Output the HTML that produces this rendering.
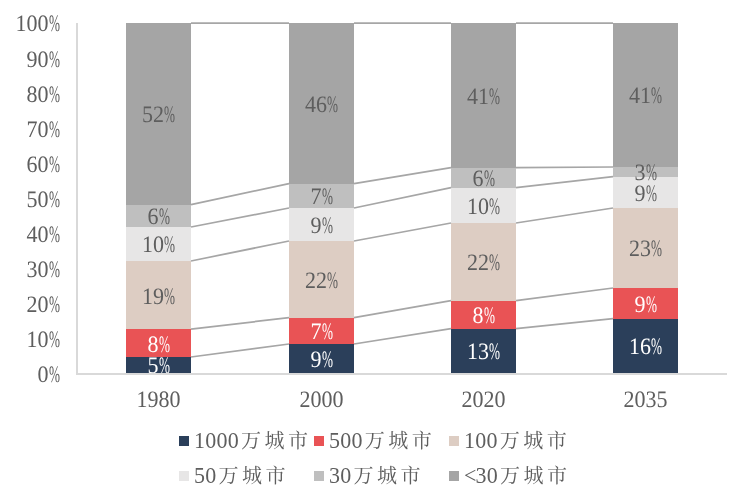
<!DOCTYPE html>
<html lang="zh-CN">
<head>
<meta charset="utf-8">
<title>城市规模人口占比</title>
<style>
html,body{margin:0;padding:0;background:#fff;}
body{width:750px;height:503px;position:relative;overflow:hidden;
 font-family:"Liberation Serif","Noto Serif CJK SC",serif;font-size:22px;line-height:22px;color:#5e5e5e;}
.seg{position:absolute;}
.t{position:absolute;white-space:nowrap;height:22px;transform:scaleY(1.07);transform-origin:50% 50%;text-rendering:geometricPrecision;}
.c{text-align:center;}
.r{text-align:right;}
.w{color:#fff;}
.p{display:inline-block;width:11px;transform:scaleX(0.6);transform-origin:0 50%;}
.ax{position:absolute;background:#d9d9d9;}
.lg{position:absolute;white-space:nowrap;height:22px;letter-spacing:0.25px;}
.d{display:inline-block;transform:scaleY(1.06);transform-origin:0 50%;}
.k{font-size:20px;font-weight:400;letter-spacing:3.5px;margin-left:2px;}
.mk{position:absolute;width:10px;height:10px;}
svg{position:absolute;left:0;top:0;}
</style>
</head>
<body>

<div class="seg" style="left:126px;top:23px;width:65px;height:181.6px;background:#a5a5a5"></div>
<div class="seg" style="left:126px;top:204.6px;width:65px;height:22.4px;background:#bfbfbf"></div>
<div class="seg" style="left:126px;top:227px;width:65px;height:34px;background:#e7e6e6"></div>
<div class="seg" style="left:126px;top:261px;width:65px;height:68.2px;background:#ddcdc3"></div>
<div class="seg" style="left:126px;top:329.2px;width:65px;height:27.8px;background:#e95355"></div>
<div class="seg" style="left:126px;top:357px;width:65px;height:15.7px;background:#2b3f5a"></div>
<div class="seg" style="left:289px;top:23px;width:65px;height:160.6px;background:#a5a5a5"></div>
<div class="seg" style="left:289px;top:183.6px;width:65px;height:24.4px;background:#bfbfbf"></div>
<div class="seg" style="left:289px;top:208px;width:65px;height:33px;background:#e7e6e6"></div>
<div class="seg" style="left:289px;top:241px;width:65px;height:76.6px;background:#ddcdc3"></div>
<div class="seg" style="left:289px;top:317.6px;width:65px;height:26.4px;background:#e95355"></div>
<div class="seg" style="left:289px;top:344px;width:65px;height:28.7px;background:#2b3f5a"></div>
<div class="seg" style="left:451px;top:23px;width:65px;height:144.6px;background:#a5a5a5"></div>
<div class="seg" style="left:451px;top:167.6px;width:65px;height:20px;background:#bfbfbf"></div>
<div class="seg" style="left:451px;top:187.6px;width:65px;height:35.4px;background:#e7e6e6"></div>
<div class="seg" style="left:451px;top:223px;width:65px;height:77.6px;background:#ddcdc3"></div>
<div class="seg" style="left:451px;top:300.6px;width:65px;height:28px;background:#e95355"></div>
<div class="seg" style="left:451px;top:328.6px;width:65px;height:44.1px;background:#2b3f5a"></div>
<div class="seg" style="left:613px;top:23px;width:65px;height:144px;background:#a5a5a5"></div>
<div class="seg" style="left:613px;top:167px;width:65px;height:9.6px;background:#bfbfbf"></div>
<div class="seg" style="left:613px;top:176.6px;width:65px;height:31.4px;background:#e7e6e6"></div>
<div class="seg" style="left:613px;top:208px;width:65px;height:80px;background:#ddcdc3"></div>
<div class="seg" style="left:613px;top:288px;width:65px;height:30.6px;background:#e95355"></div>
<div class="seg" style="left:613px;top:318.6px;width:65px;height:54.1px;background:#2b3f5a"></div>
<svg width="750" height="503" viewBox="0 0 750 503" fill="none" stroke="#a6a6a6" stroke-width="1.75">
<line x1="191" y1="23" x2="289" y2="23"/>
<line x1="191" y1="204.6" x2="289" y2="183.6"/>
<line x1="191" y1="227" x2="289" y2="208"/>
<line x1="191" y1="261" x2="289" y2="241"/>
<line x1="191" y1="329.2" x2="289" y2="317.6"/>
<line x1="191" y1="357" x2="289" y2="344"/>
<line x1="354" y1="23" x2="451" y2="23"/>
<line x1="354" y1="183.6" x2="451" y2="167.6"/>
<line x1="354" y1="208" x2="451" y2="187.6"/>
<line x1="354" y1="241" x2="451" y2="223"/>
<line x1="354" y1="317.6" x2="451" y2="300.6"/>
<line x1="354" y1="344" x2="451" y2="328.6"/>
<line x1="516" y1="23" x2="613" y2="23"/>
<line x1="516" y1="167.6" x2="613" y2="167"/>
<line x1="516" y1="187.6" x2="613" y2="176.6"/>
<line x1="516" y1="223" x2="613" y2="208"/>
<line x1="516" y1="300.6" x2="613" y2="288"/>
<line x1="516" y1="328.6" x2="613" y2="318.6"/>
</svg>
<div class="t r" style="left:0;width:59.5px;top:363.6px">0<span class="p">%</span></div>
<div class="t r" style="left:0;width:59.5px;top:328.6px">10<span class="p">%</span></div>
<div class="t r" style="left:0;width:59.5px;top:293.6px">20<span class="p">%</span></div>
<div class="t r" style="left:0;width:59.5px;top:258.6px">30<span class="p">%</span></div>
<div class="t r" style="left:0;width:59.5px;top:223.6px">40<span class="p">%</span></div>
<div class="t r" style="left:0;width:59.5px;top:188.6px">50<span class="p">%</span></div>
<div class="t r" style="left:0;width:59.5px;top:153.6px">60<span class="p">%</span></div>
<div class="t r" style="left:0;width:59.5px;top:118.6px">70<span class="p">%</span></div>
<div class="t r" style="left:0;width:59.5px;top:83.6px">80<span class="p">%</span></div>
<div class="t r" style="left:0;width:59.5px;top:48.6px">90<span class="p">%</span></div>
<div class="t r" style="left:0;width:59.5px;top:12.6px">100<span class="p">%</span></div>
<div class="t c" style="left:116px;width:85px;top:104.2px">52<span class="p">%</span></div>
<div class="t c" style="left:116px;width:85px;top:206.2px">6<span class="p">%</span></div>
<div class="t c" style="left:116px;width:85px;top:234.4px">10<span class="p">%</span></div>
<div class="t c" style="left:116px;width:85px;top:285.5px">19<span class="p">%</span></div>
<div class="t c w" style="left:116px;width:85px;top:333.5px">8<span class="p">%</span></div>
<div class="t c w" style="left:116px;width:85px;top:355.25px">5<span class="p">%</span></div>
<div class="t c" style="left:279px;width:85px;top:93.7px">46<span class="p">%</span></div>
<div class="t c" style="left:279px;width:85px;top:186.2px">7<span class="p">%</span></div>
<div class="t c" style="left:279px;width:85px;top:214.9px">9<span class="p">%</span></div>
<div class="t c" style="left:279px;width:85px;top:269.7px">22<span class="p">%</span></div>
<div class="t c w" style="left:279px;width:85px;top:321.2px">7<span class="p">%</span></div>
<div class="t c w" style="left:279px;width:85px;top:348.75px">9<span class="p">%</span></div>
<div class="t c" style="left:441px;width:85px;top:85.7px">41<span class="p">%</span></div>
<div class="t c" style="left:441px;width:85px;top:168px">6<span class="p">%</span></div>
<div class="t c" style="left:441px;width:85px;top:195.7px">10<span class="p">%</span></div>
<div class="t c" style="left:441px;width:85px;top:252.2px">22<span class="p">%</span></div>
<div class="t c w" style="left:441px;width:85px;top:305px">8<span class="p">%</span></div>
<div class="t c w" style="left:441px;width:85px;top:341.05px">13<span class="p">%</span></div>
<div class="t c" style="left:603px;width:85px;top:85.4px">41<span class="p">%</span></div>
<div class="t c" style="left:603px;width:85px;top:162.2px">3<span class="p">%</span></div>
<div class="t c" style="left:603px;width:85px;top:182.7px">9<span class="p">%</span></div>
<div class="t c" style="left:603px;width:85px;top:238.4px">23<span class="p">%</span></div>
<div class="t c w" style="left:603px;width:85px;top:293.7px">9<span class="p">%</span></div>
<div class="t c w" style="left:603px;width:85px;top:336.05px">16<span class="p">%</span></div>
<div class="ax" style="left:76px;top:23px;width:2px;height:351.7px"></div>
<div class="ax" style="left:76px;top:372.7px;width:651px;height:2px"></div>
<div class="t c" style="left:116px;width:85px;top:389.1px">1980</div>
<div class="t c" style="left:279px;width:85px;top:389.1px">2000</div>
<div class="t c" style="left:441px;width:85px;top:389.1px">2020</div>
<div class="t c" style="left:603px;width:85px;top:389.1px">2035</div>
<div class="mk" style="left:179px;top:436px;background:#2b3f5a"></div>
<div class="lg" style="left:194px;top:430px"><span class="d">1000</span><span class="k">万城市</span></div>
<div class="mk" style="left:314px;top:436px;background:#e95355"></div>
<div class="lg" style="left:329px;top:430px"><span class="d">500</span><span class="k">万城市</span></div>
<div class="mk" style="left:449px;top:436px;background:#ddcdc3"></div>
<div class="lg" style="left:464px;top:430px"><span class="d">100</span><span class="k">万城市</span></div>
<div class="mk" style="left:179px;top:471px;background:#e7e6e6"></div>
<div class="lg" style="left:194px;top:465px"><span class="d">50</span><span class="k">万城市</span></div>
<div class="mk" style="left:314px;top:471px;background:#bfbfbf"></div>
<div class="lg" style="left:329px;top:465px"><span class="d">30</span><span class="k">万城市</span></div>
<div class="mk" style="left:449px;top:471px;background:#a5a5a5"></div>
<div class="lg" style="left:464px;top:465px"><span class="d"><span style="margin-right:-1.2px">&lt;</span>30</span><span class="k">万城市</span></div>
</body>
</html>
